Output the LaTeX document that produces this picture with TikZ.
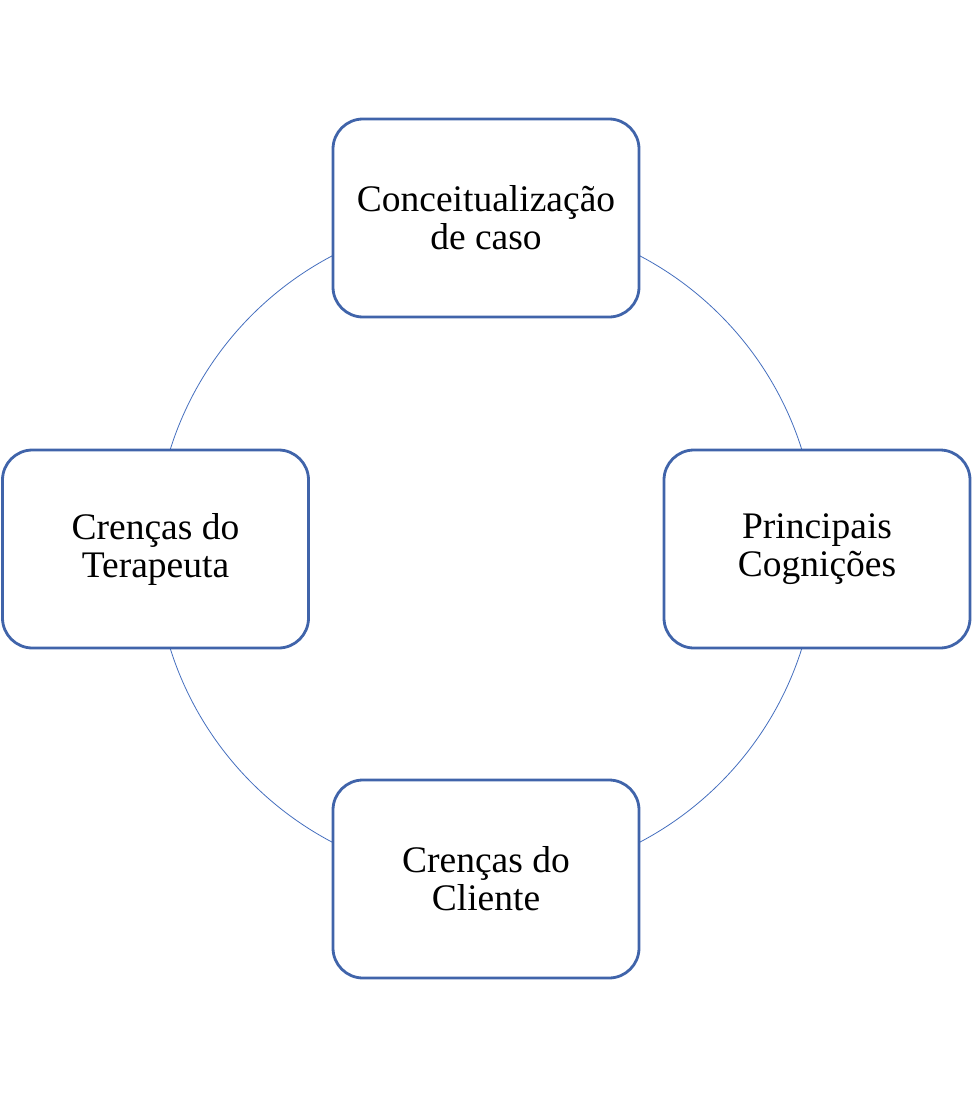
\documentclass[tikz,border=0pt]{standalone}
\usepackage{fontspec}
\setmainfont{Liberation Serif}
\definecolor{boxblue}{RGB}{64,100,170}
\definecolor{lineblue}{RGB}{68,110,190}
\begin{document}
\begin{tikzpicture}[x=1pt,y=-1pt,
  cbox/.style={draw=boxblue, line width=2.8pt, fill=white, rounded corners=30pt,
    minimum width=306pt, minimum height=198pt, align=center, inner sep=0pt,
    font=\fontsize{37.5}{38}\selectfont}]
\useasboundingbox (0,0) rectangle (973,1097);
\coordinate (c) at (486,549);
\draw[lineblue, line width=0.8pt] (c) circle[radius=331pt];
\node[cbox] (top) at (486,218) {Conceitualização\\de caso};
\node[cbox] (right) at (817,549) {Principais\\Cognições};
\node[cbox] (bottom) at (486,879) {Crenças do\\Cliente};
\node[cbox] (left) at (155.5,549) {Crenças do\\Terapeuta};
\end{tikzpicture}
\end{document}
